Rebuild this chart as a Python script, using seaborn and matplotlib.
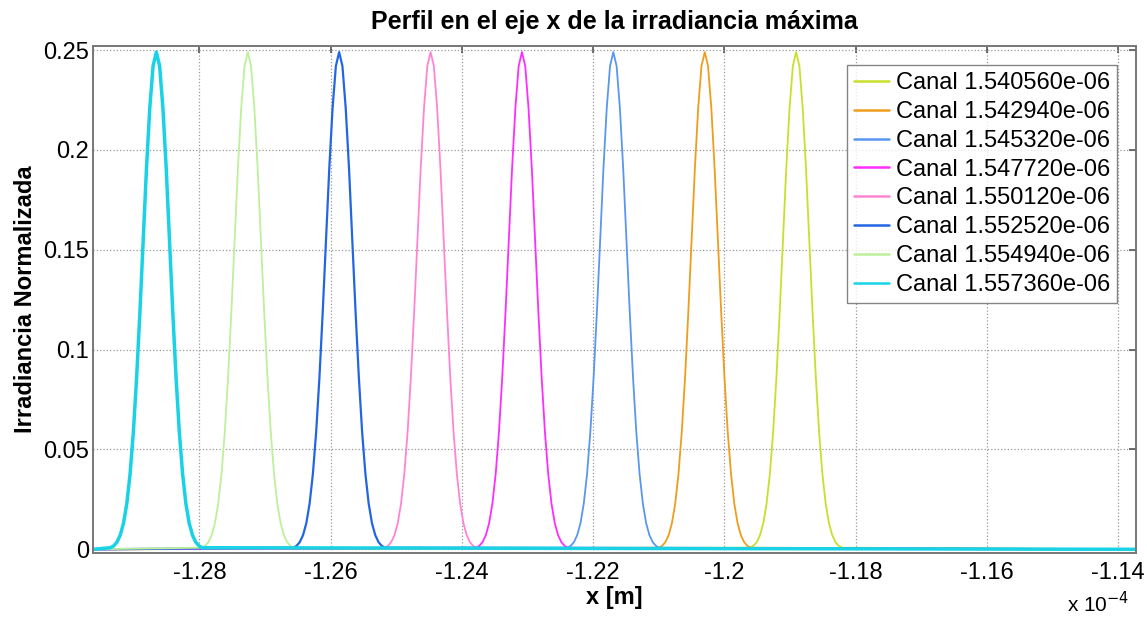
import numpy as np
import pandas as pd
import matplotlib
matplotlib.use("Agg")
import matplotlib.pyplot as plt
import seaborn as sns

# Channel wavelengths (legend) and peak centres (units of 1e-4 m)
channels = ["1.540560e-06", "1.542940e-06", "1.545320e-06", "1.547720e-06",
            "1.550120e-06", "1.552520e-06", "1.554940e-06", "1.557360e-06"]
centers = [-1.18908, -1.20300, -1.21693, -1.23085,
           -1.24477, -1.25870, -1.27262, -1.28655]
colors = ["#c9df2c", "#ee9d1c", "#5a96f0", "#ff2cff",
          "#ff84d4", "#2266e4", "#bdf09a", "#19d2e6"]
widths = [1.3, 1.3, 1.3, 1.3, 1.3, 1.6, 1.3, 2.5]

# half profile of one peak: offset from centre (in 1e-4 m) and normalised irradiance
half_offset = [0.0, 0.0005, 0.0010, 0.0015, 0.0020, 0.0025, 0.0030, 0.0035,
               0.0040, 0.0045, 0.0050, 0.0055, 0.0060, 0.0065, 0.0070]
half_irr = [0.249, 0.242, 0.221, 0.191, 0.155, 0.119, 0.0862, 0.0588,
            0.0378, 0.0229, 0.0131, 0.0071, 0.0036, 0.0017, 0.0008]

# x range of the simulated profile
x_start = -1.2962
x_end = -1.1373

yticks = [0, 0.05, 0.1, 0.15, 0.2, 0.25]
ytick_labels = ["0", "0.05", "0.1", "0.15", "0.2", "0.25"]
xticks = [-1.28, -1.26, -1.24, -1.22, -1.2, -1.18, -1.16, -1.14]
xtick_labels = ["-1.28", "-1.26", "-1.24", "-1.22", "-1.2", "-1.18", "-1.16", "-1.14"]

offsets = [-o for o in half_offset[:0:-1]] + half_offset
irr = half_irr[:0:-1] + half_irr

rows = []
for ch, c in zip(channels, centers):
    xs = [x_start] + [c + o for o in offsets] + [x_end]
    ys = [0.0] + irr + [0.0]
    for xv, yv in zip(xs, ys):
        rows.append({"canal": "Canal " + ch, "x": xv, "irr": yv})
df = pd.DataFrame(rows)

sns.set_style("white")
plt.rcParams["font.family"] = ["Liberation Sans", "DejaVu Sans"]
plt.rcParams["axes.unicode_minus"] = False
plt.rcParams["text.color"] = "black"
plt.rcParams["axes.labelcolor"] = "black"
plt.rcParams["xtick.labelcolor"] = "black"
plt.rcParams["ytick.labelcolor"] = "black"

fig = plt.figure(figsize=(11.47, 6.17), dpi=100)
ax = fig.add_axes([93 / 1147, 1 - 553.3 / 617, 1043 / 1147, 507.6 / 617])

for ch, col, lw in zip(channels, colors, widths):
    sub = df[df["canal"] == "Canal " + ch]
    sns.lineplot(data=sub, x="x", y="irr", color=col, linewidth=lw,
                 label="Canal " + ch, estimator=None, sort=False, ax=ax)

ax.set_xlim(x_start, x_end)
ax.set_ylim(-0.002, 0.2522)
ax.set_xticks(xticks)
ax.set_xticklabels(xtick_labels)
ax.set_yticks(yticks)
ax.set_yticklabels(ytick_labels)
ax.tick_params(direction="in", length=5, width=1.2, color="#555555",
               labelcolor="black", top=True, right=True, labelsize=17)
ax.tick_params(axis="x", pad=6)
ax.tick_params(axis="y", pad=3)
ax.grid(True, linestyle=":", color="#999999", linewidth=0.9)
for s in ax.spines.values():
    s.set_color("#777777")
    s.set_linewidth(1.4)

ax.set_title("Perfil en el eje x de la irradiancia máxima", fontsize=18,
             fontweight="bold", pad=12, color="black")
ax.set_xlabel("x [m]", fontsize=17, fontweight="bold", labelpad=2)
ax.set_ylabel("Irradiancia Normalizada", fontsize=17, fontweight="bold", labelpad=4)
ax.text(0.994, -0.1, "x 10$^{-4}$", transform=ax.transAxes, ha="right",
        va="center", fontsize=15, color="black")

leg = ax.legend(loc="upper right", bbox_to_anchor=(0.9818, 0.962),
                borderaxespad=0, fontsize=17, frameon=True, fancybox=False,
                handlelength=1.45, handletextpad=0.3, labelspacing=0.29,
                borderpad=0.3)
leg.get_frame().set_edgecolor("#666666")
leg.get_frame().set_linewidth(1.0)
for line in leg.get_lines():
    line.set_linewidth(1.8)
for t in leg.get_texts():
    t.set_color("black")

fig.savefig("out.png", dpi=100)
plt.close(fig)
